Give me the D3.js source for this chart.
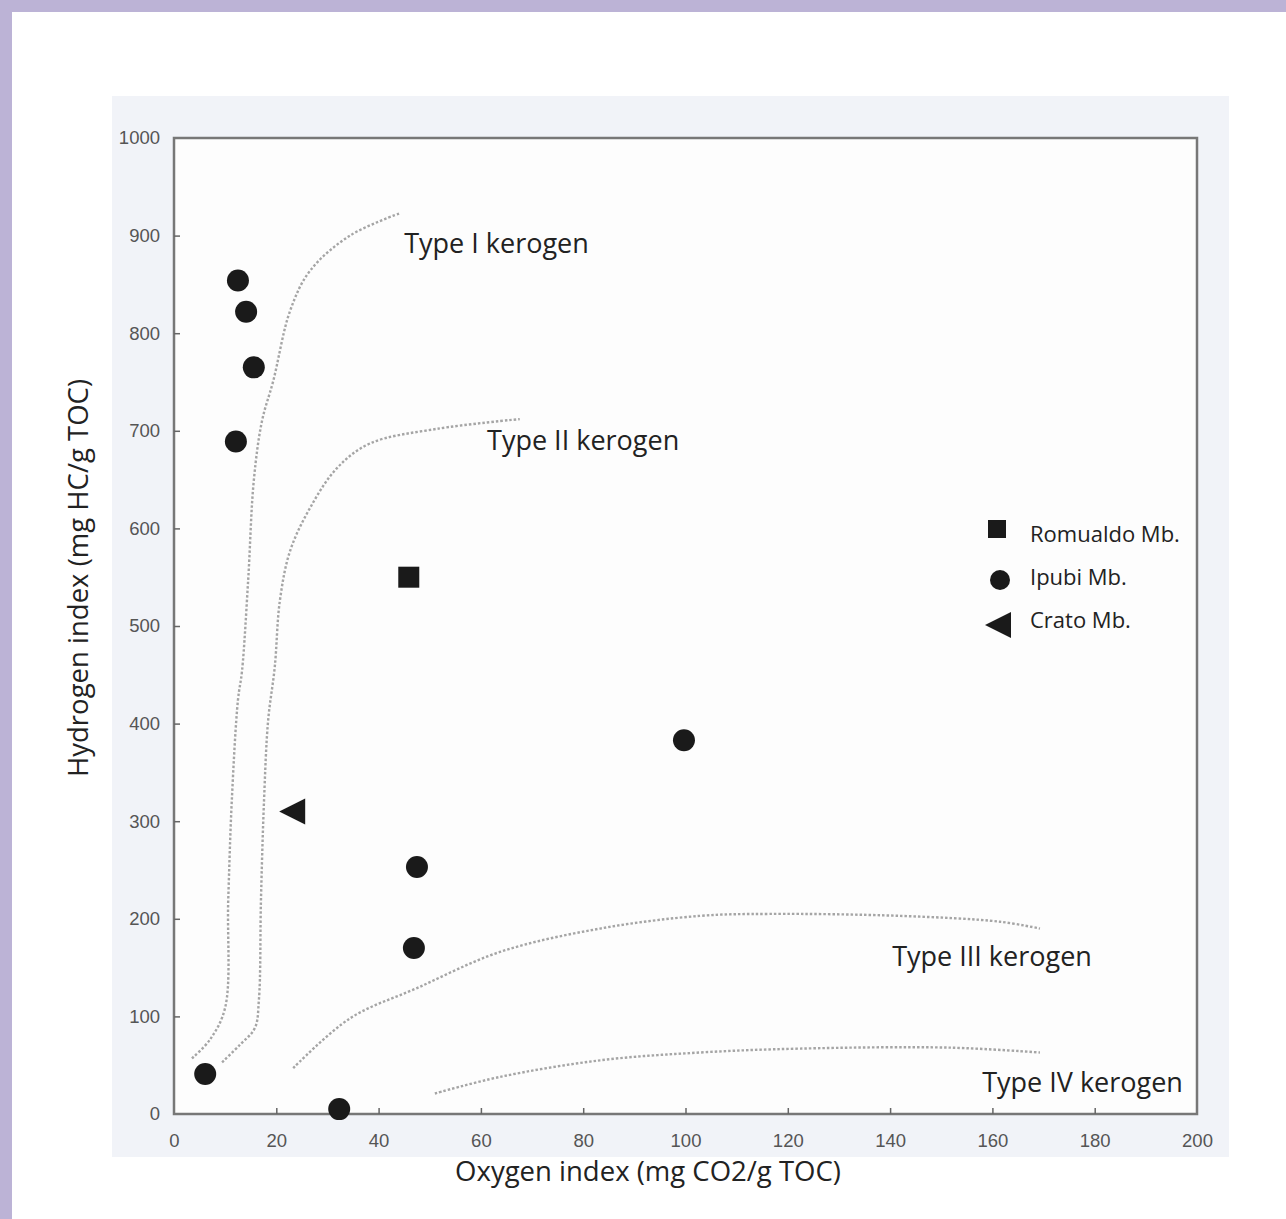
<!DOCTYPE html>
<html>
<head>
<meta charset="utf-8">
<script src="https://cdn.jsdelivr.net/npm/d3@7"></script>
<style>
  body { margin: 0; background: #fff; }
  svg { display: block; }
  .tick text { font-family: 'Liberation Sans', Arial, sans-serif; font-size: 18.5px; fill: #555; }
  .tick line { stroke: #666; stroke-width: 1.5; }
  .lbl { font-family: 'Open Sans', 'Noto Sans', sans-serif; fill: #222; }
</style>
</head>
<body>
<svg id="canvas"></svg>
<script>
const width = 1286;
const height = 1219;

// data
const xTicks = [0, 20, 40, 60, 80, 100, 120, 140, 160, 180, 200];
const yTicks = [0, 100, 200, 300, 400, 500, 600, 700, 800, 900, 1000];

const ipubiX = [12.5, 14.1, 15.6, 12.1, 99.7, 47.5, 46.9, 6.1, 32.3];
const ipubiY = [854, 822, 765, 689, 383, 253, 170, 41, 5];
const romualdoX = [45.9];
const romualdoY = [550];
const cratoX = [23.1];
const cratoY = [310];

const typeI = [[3.5, 57], [7, 76], [10, 109], [10.6, 219], [11.3, 321], [12.5, 424], [13.3, 454],
    [14.5, 547], [15.6, 649], [17.2, 710], [19.4, 751], [22.7, 823], [26.6, 864], [34.4, 900], [44.2, 923]];
const typeII = [[9.4, 53], [12.9, 71], [15.8, 88], [16.6, 117], [17.0, 219], [17.6, 321], [18.4, 403],
    [19.7, 458], [20.7, 526], [22.7, 577], [26.6, 621], [31.9, 662], [38.3, 687], [51.4, 702], [67.6, 712]];
const typeIII = [[23.3, 47], [34.4, 98], [47.5, 129], [63.7, 166], [83.3, 190], [102.8, 203],
    [116.5, 205], [141.9, 203], [161.5, 197], [169.3, 190]];
const typeIV = [[51, 21], [63.7, 38], [83.3, 55], [102.8, 63], [122.4, 67], [151.7, 68], [169.3, 63]];

const curveLabels = [
    { text: 'Type I kerogen', x: 45.0, y: 882 },
    { text: 'Type II kerogen', x: 61.2, y: 680 },
    { text: 'Type III kerogen', x: 140.4, y: 152 },
    { text: 'Type IV kerogen', x: 158.0, y: 23 }
];
const legendItems = ['Romualdo Mb.', 'Ipubi Mb.', 'Crato Mb.'];

const svg = d3.select('#canvas')
    .attr('width', width)
    .attr('height', height);

// 背景の枠
svg.append('rect').attr('x', 0).attr('y', 0).attr('width', width).attr('height', 12).attr('fill', '#bcb3d6');
svg.append('rect').attr('x', 0).attr('y', 0).attr('width', 12).attr('height', height).attr('fill', '#bcb3d6');
svg.append('rect').attr('x', 112).attr('y', 96).attr('width', 1117).attr('height', 1061).attr('fill', '#f1f3f8');

const x = d3.scaleLinear().domain([0, 200]).range([174, 1197]);
const y = d3.scaleLinear().domain([0, 1000]).range([1114, 138]);

// plot area
svg.append('rect')
    .attr('x', x(0)).attr('y', y(1000))
    .attr('width', x(200) - x(0)).attr('height', y(0) - y(1000))
    .attr('fill', '#fdfdfd')
    .attr('stroke', '#777')
    .attr('stroke-width', 2.5);

const gx = svg.append('g')
    .attr('transform', 'translate(0,' + y(0) + ')')
    .call(d3.axisBottom(x).tickValues(xTicks).tickFormat(d3.format('d'))
        .tickSizeInner(-6).tickSizeOuter(0).tickPadding(20));
gx.select('.domain').remove();
gx.selectAll('.tick').filter(d => d === 0 || d === 200).select('line').remove();

const gy = svg.append('g')
    .attr('transform', 'translate(' + x(0) + ',0)')
    .call(d3.axisLeft(y).tickValues(yTicks).tickFormat(d3.format('d'))
        .tickSizeInner(-6).tickSizeOuter(0).tickPadding(14));
gy.select('.domain').remove();
gy.selectAll('.tick').filter(d => d === 0 || d === 1000).select('line').remove();

// 境界カーブ
const line = d3.line()
    .x(d => x(d[0]))
    .y(d => y(d[1]))
    .curve(d3.curveCatmullRom.alpha(0.5));

[typeI, typeII, typeIII, typeIV].forEach(c => {
    svg.append('path')
        .datum(c)
        .attr('fill', 'none')
        .attr('stroke', '#a5a5a5')
        .attr('stroke-width', 2.4)
        .attr('stroke-dasharray', '2.5,2')
        .attr('d', line);
});

svg.selectAll('.clabel')
    .data(curveLabels)
    .join('text')
    .attr('class', 'lbl clabel')
    .attr('x', d => x(d.x))
    .attr('y', d => y(d.y))
    .attr('font-size', 27)
    .text(d => d.text);

// points
const ink = '#1a1a1a';
svg.selectAll('.ipubi')
    .data(d3.zip(ipubiX, ipubiY))
    .join('circle')
    .attr('class', 'ipubi')
    .attr('cx', d => x(d[0]))
    .attr('cy', d => y(d[1]))
    .attr('r', 11)
    .attr('fill', ink);

svg.selectAll('.romualdo')
    .data(d3.zip(romualdoX, romualdoY))
    .join('rect')
    .attr('class', 'romualdo')
    .attr('x', d => x(d[0]) - 10.5)
    .attr('y', d => y(d[1]) - 10.5)
    .attr('width', 21)
    .attr('height', 21)
    .attr('fill', ink);

const tri = (cx, cy, s) => `M${cx - s},${cy} L${cx + s},${cy - s} L${cx + s},${cy + s} Z`;
svg.selectAll('.crato')
    .data(d3.zip(cratoX, cratoY))
    .join('path')
    .attr('class', 'crato')
    .attr('d', d => tri(x(d[0]), y(d[1]), 13))
    .attr('fill', ink);

// 凡例
const lg = svg.append('g').attr('transform', 'translate(997,0)');
lg.append('rect').attr('x', -9).attr('y', 520).attr('width', 18).attr('height', 18).attr('fill', ink);
lg.append('circle').attr('cx', 3).attr('cy', 580).attr('r', 10).attr('fill', ink);
lg.append('path').attr('d', tri(1, 625, 13)).attr('fill', ink);
lg.selectAll('text')
    .data(legendItems)
    .join('text')
    .attr('class', 'lbl')
    .attr('x', 33)
    .attr('y', (d, i) => 542 + i * 43)
    .attr('font-size', 22)
    .text(d => d);

// 軸タイトル
svg.append('text')
    .attr('class', 'lbl')
    .attr('text-anchor', 'middle')
    .attr('font-size', 27.5)
    .attr('transform', 'translate(88,578) rotate(-90)')
    .text('Hydrogen index (mg HC/g TOC)');

svg.append('text')
    .attr('class', 'lbl')
    .attr('text-anchor', 'middle')
    .attr('font-size', 27.5)
    .attr('x', 648)
    .attr('y', 1181)
    .text('Oxygen index (mg CO2/g TOC)');
</script>
</body>
</html>
